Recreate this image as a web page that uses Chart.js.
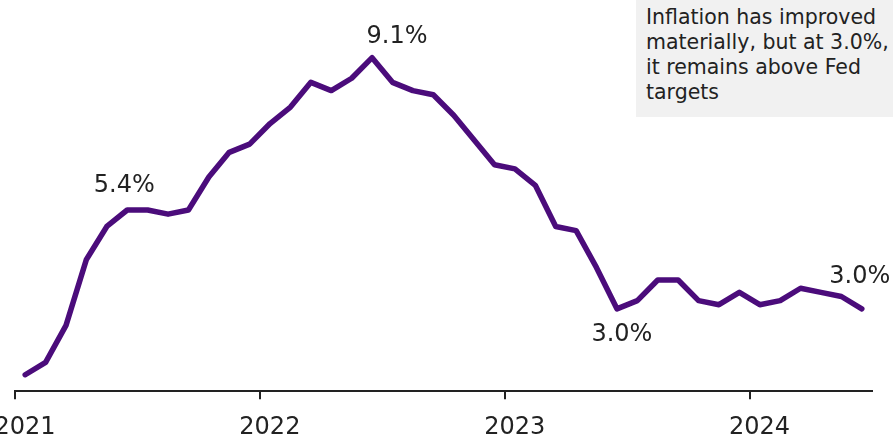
<!DOCTYPE html>
<html>
<head>
<meta charset="utf-8">
<script src="https://cdn.jsdelivr.net/npm/chart.js@4/dist/chart.umd.min.js"></script>
<style>
  html, body { margin: 0; padding: 0; background: #fff; overflow: hidden; }
  #wrap { position: relative; width: 893px; height: 442px; }
  #chart { position: absolute; left: 0; top: 0; }
  #note {
    position: absolute; left: 636px; top: 0; width: 247px; height: 112px;
    padding: 5px 0 0 10px; box-sizing: content-box;
    background: #f1f1f1; color: #222;
    font: 20.5px "DejaVu Sans", sans-serif; line-height: 25px;
    white-space: nowrap;
  }
</style>
</head>
<body>
<div id="wrap">
  <canvas id="chart" width="893" height="442"></canvas>
  <div id="note">Inflation has improved<br>materially, but at 3.0%,<br>it remains above Fed<br>targets</div>
</div>
<script>
// CPI, year-over-year %, monthly
const months = [
  "2021-01", "2021-02", "2021-03", "2021-04", "2021-05", "2021-06",
  "2021-07", "2021-08", "2021-09", "2021-10", "2021-11", "2021-12",
  "2022-01", "2022-02", "2022-03", "2022-04", "2022-05", "2022-06",
  "2022-07", "2022-08", "2022-09", "2022-10", "2022-11", "2022-12",
  "2023-01", "2023-02", "2023-03", "2023-04", "2023-05", "2023-06",
  "2023-07", "2023-08", "2023-09", "2023-10", "2023-11", "2023-12",
  "2024-01", "2024-02", "2024-03", "2024-04", "2024-05", "2024-06"
];
const cpi = [
  1.4, 1.7, 2.6, 4.2, 5.0, 5.4, 5.4, 5.3, 5.4, 6.2, 6.8, 7.0,
  7.5, 7.9, 8.5, 8.3, 8.6, 9.1, 8.5, 8.3, 8.2, 7.7, 7.1, 6.5,
  6.4, 6.0, 5.0, 4.9, 4.0, 3.0, 3.2, 3.7, 3.7, 3.2, 3.1, 3.4,
  3.1, 3.2, 3.5, 3.4, 3.3, 3.0
];
const yearTicks = ["2021", "2022", "2023", "2024"];
// which points get a value label
const labelMonths = ["2021-06", "2022-06", "2023-06", "2024-06"];

const firstYear = Number(yearTicks[0]);
const FONT = '"DejaVu Sans", sans-serif';

// month index from Jan 2021, placed mid-month
function monthPos(m) {
  const [y, mo] = m.split("-").map(Number);
  return (y - firstYear) * 12 + (mo - 1) + 0.5;
}

const points = months.map((m, i) => ({ x: monthPos(m), y: cpi[i] }));

// label offsets from the point (dx, dy to text baseline)
const labelStyle = {
  "2021-06": { dx: -3, dy: -18 },
  "2022-06": { dx: 25, dy: -15 },
  "2023-06": { dx: 5, dy: 32 },
  "2024-06": { dx: -2, dy: -26 }
};

const valueLabels = {
  id: "valueLabels",
  afterDatasetsDraw(chart) {
    const { ctx, scales } = chart;
    ctx.save();
    ctx.font = "24px " + FONT;
    ctx.fillStyle = "#222";
    ctx.textAlign = "center";
    ctx.textBaseline = "alphabetic";
    labelMonths.forEach(m => {
      const i = months.indexOf(m);
      const s = labelStyle[m];
      const px = scales.x.getPixelForValue(points[i].x);
      const py = scales.y.getPixelForValue(points[i].y);
      ctx.fillText(cpi[i].toFixed(1) + "%", px + s.dx, py + s.dy);
    });
    ctx.restore();
  }
};

new Chart(document.getElementById("chart"), {
  type: "line",
  data: {
    datasets: [{
      data: points,
      borderColor: "#4b0c7b",
      borderWidth: 5.5,
      borderCapStyle: "round",
      borderJoinStyle: "round",
      pointRadius: 0,
      tension: 0,
      clip: false
    }]
  },
  options: {
    responsive: false,
    animation: false,
    events: [],
    layout: { padding: { left: 15, right: 21, top: 0, bottom: -14 } },
    plugins: { legend: { display: false }, tooltip: { enabled: false } },
    scales: {
      x: {
        type: "linear",
        min: 0,
        max: 42,
        afterFit(scale) { scale.paddingLeft = 0; scale.paddingRight = 0; },
        afterBuildTicks(scale) {
          scale.ticks = yearTicks.map((y, i) => ({ value: i * 12 }));
        },
        ticks: {
          callback: v => yearTicks[v / 12],
          font: { family: FONT, size: 24 },
          color: "#222",
          padding: 14,
          labelOffset: 10,
          maxRotation: 0,
          autoSkip: false
        },
        grid: { drawOnChartArea: false, drawTicks: true, tickLength: 8, color: "#222", lineWidth: 2 },
        border: { display: true, color: "#222", width: 2 }
      },
      y: {
        display: false,
        min: 1,
        max: 10.5
      }
    }
  },
  plugins: [valueLabels]
});
</script>
</body>
</html>
